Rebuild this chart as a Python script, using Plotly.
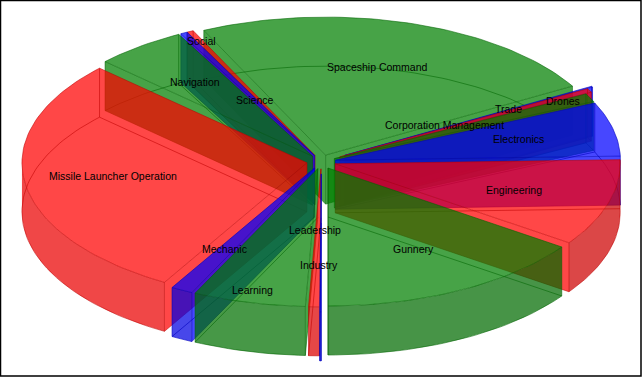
import math
import plotly.graph_objects as go

# Slices, counter-clockwise from the first one (values are shares of the full circle)
categories = ["Corporation Management", "Trade", "Drones", "Spaceship Command", "Social", "Science",
              "Navigation", "Missile Launcher Operation", "Mechanic", "Learning", "Industry",
              "Leadership", "Gunnery", "Engineering", "Electronics"]
values = [3.5, 1.6, 0.4, 85.3, 1.3, 1.4, 18.7, 103.3, 4.5, 23.0, 2.2, 0.3, 55.1, 36.6, 22.8]
colors = ["green", "red", "blue", "green", "red", "blue", "green", "red", "blue", "green", "red",
          "blue", "green", "red", "blue"]
explode = [14.5, 21, 27, 14.5, 14.5, 14.5, 14.5, 14.5, 14.5, 14.5, 14.5, 25, 14.5, 14.5, 14.5]
label_x = [444, 508, 563, 377, 201, 255, 195, 113, 224, 252, 319, 315, 413, 514, 518]
label_y = [125, 109, 101, 67, 41, 100, 82, 176, 249, 290, 265, 230, 249, 190, 139]

START_ANGLE = 24.5
CX, CY, RX, RY, DEPTH = 321.3, 161.8, 285.0, 138.0, 49.0
ALPHA = 0.72
BASE = {"red": (255, 0, 0), "green": (0, 128, 0), "blue": (0, 0, 255)}
EDGE = {"red": "rgba(190,0,0,0.55)", "green": "rgba(0,100,0,0.55)", "blue": "rgba(0,0,190,0.6)"}

fig = go.Figure()
total = sum(values)


def poly(xs, ys, fill=None, line=None):
    fig.add_trace(go.Scatter(
        x=xs, y=ys, mode="lines", fill="toself" if fill else "none", fillcolor=fill,
        line=dict(color=line or "rgba(0,0,0,0)", width=1 if line else 0),
        hoverinfo="skip", showlegend=False))


def rgba(c, shade=1.0):
    r, g, b = BASE[c]
    return f"rgba({r*shade:.0f},{g*shade:.0f},{b*shade:.0f},{ALPHA})"


slices = []
angle = START_ANGLE
for i, v in enumerate(values):
    sweep = v / total * 360.0
    slices.append((angle, angle + sweep, i))
    angle += sweep
# far slices are painted first; Drones goes behind Trade as in the reference
slices.sort(key=lambda s: (-math.sin(math.radians((s[0] + s[1]) / 2))))

for a0, a1, i in slices:
    c = colors[i]
    mid = math.radians((a0 + a1) / 2)
    ax = CX + explode[i] * math.cos(mid)
    ay = CY - explode[i] * RY / RX * math.sin(mid)
    n = max(2, int((a1 - a0) / 1.5) + 2)
    thetas = [a0 + (a1 - a0) * k / (n - 1) for k in range(n)]
    rim = lambda t: (ax + RX * math.cos(math.radians(t)), ay - RY * math.sin(math.radians(t)))
    rx_ = [rim(t)[0] for t in thetas]
    ry_ = [rim(t)[1] for t in thetas]

    # radial walls, only the ones turned to the viewer
    for t, normal in ((a0, a0 - 90), (a1, a1 + 90)):
        if math.sin(math.radians(normal)) < 0:
            px, py = rim(t)
            poly([ax, px, px, ax, ax], [ay, py, py + DEPTH, ay + DEPTH, ay], fill=rgba(c))

    # outer wall, only the front part
    front = [t for t in thetas if math.sin(math.radians(t)) < 0]
    if len(front) >= 2:
        shade = 0.86 - 0.06 * math.cos(mid)
        fx = [rim(t)[0] for t in front]
        fy = [rim(t)[1] for t in front]
        poly(fx + fx[::-1] + fx[:1], fy + [y + DEPTH for y in fy[::-1]] + fy[:1], fill=rgba(c, shade))

    # top face
    poly([ax] + rx_ + [ax], [ay] + ry_ + [ay], fill=rgba(c))

    # every edge of the solid, the hidden ones show through
    e = EDGE[c]
    poly([ax] + rx_ + [ax], [ay] + ry_ + [ay], line=e)
    poly([ax] + rx_ + [ax], [ay + DEPTH] + [y + DEPTH for y in ry_] + [ay + DEPTH], line=e)
    poly([ax, ax], [ay, ay + DEPTH], line=e)
    poly([rx_[0], rx_[0]], [ry_[0], ry_[0] + DEPTH], line=e)
    poly([rx_[-1], rx_[-1]], [ry_[-1], ry_[-1] + DEPTH], line=e)

for name, x, y in zip(categories, label_x, label_y):
    fig.add_annotation(x=x, y=y, text=name, showarrow=False, xanchor="center", yanchor="middle",
                       font=dict(family="Liberation Sans", size=10.5, color="black"))

fig.add_shape(type="rect", x0=0.5, y0=0.5, x1=641, y1=376, line=dict(color="black", width=1.5))
fig.update_layout(width=642, height=377, margin=dict(l=0, r=0, t=0, b=0), autosize=False,
                  paper_bgcolor="white", plot_bgcolor="white",
                  xaxis=dict(range=[0, 642], visible=False, fixedrange=True),
                  yaxis=dict(range=[377, 0], visible=False, fixedrange=True))
fig.write_html("out.html", config={"displayModeBar": False},
               post_script="document.body.style.margin='0';")
